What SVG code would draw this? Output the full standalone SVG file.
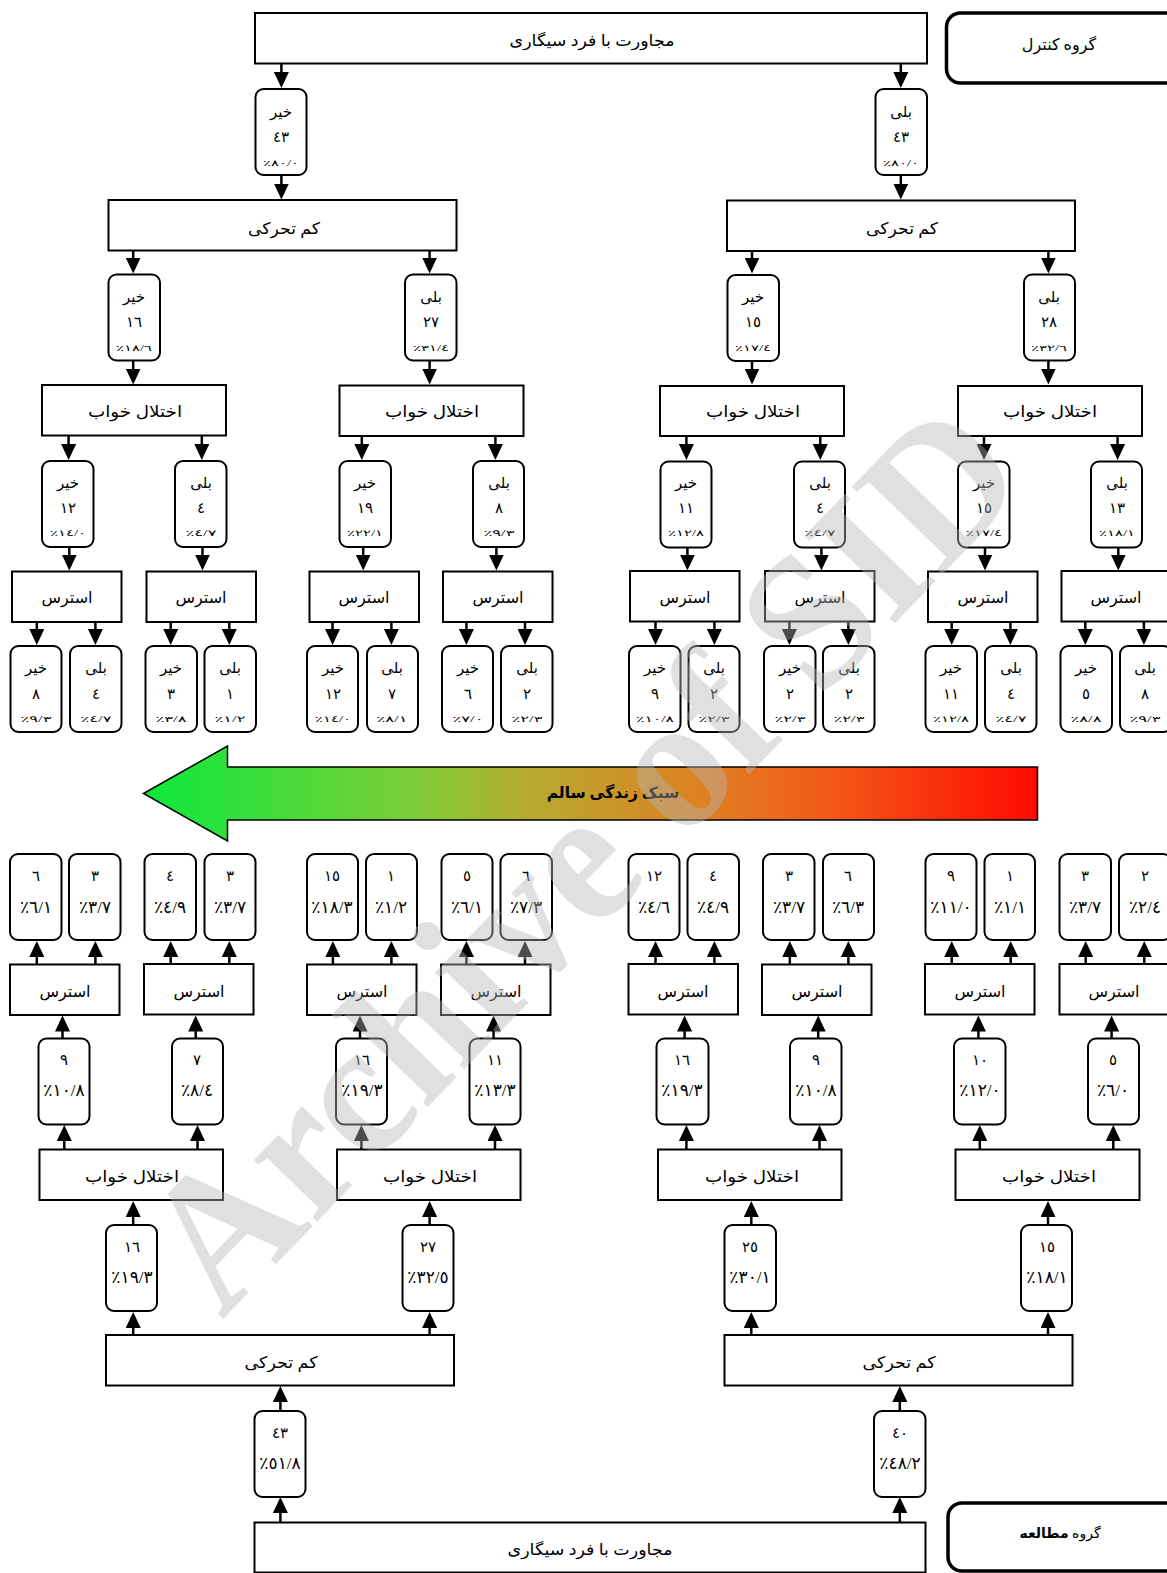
<svg xmlns="http://www.w3.org/2000/svg" width="1167" height="1573" viewBox="0 0 1167 1573">
<style>
text{font-family:"Liberation Serif","DejaVu Sans",serif;fill:#000;text-anchor:middle}
.r{fill:#fff;stroke:#000;stroke-width:2}
.b{fill:#fff;stroke:#000;stroke-width:2}
.g{fill:#fff;stroke:#000;stroke-width:3.5}
.t{font-size:16px}
.a{font-size:15px}
.n{font-size:15px}
.p{font-size:8.5px}
.q{font-size:17px}
.c path{fill:none;stroke:#000;stroke-width:2.5;marker-end:url(#h)}
</style>
<defs>
<marker id="h" viewBox="0 0 16 15" refX="12" refY="7.5" markerWidth="16" markerHeight="15" markerUnits="userSpaceOnUse" orient="auto"><path d="M0 0L16 7.5L0 15z" fill="#000"/></marker>
<linearGradient id="lg" x1="0" x2="1" y1="0" y2="0"><stop offset="0" stop-color="#0ce93c"/><stop offset=".31" stop-color="#80cc38"/><stop offset=".425" stop-color="#b5ac30"/><stop offset=".63" stop-color="#df7f22"/><stop offset=".765" stop-color="#f25a18"/><stop offset="1" stop-color="#ff0a00"/></linearGradient>
</defs>
<g id="connectors" class="c">
<path d="M281.4 63V84"/><path d="M900.8 63V84"/><path d="M281.4 175V195.5"/><path d="M900.8 175V195.5"/>
<path d="M133.2 250.5V269.5"/><path d="M429.6 250.5V269.5"/><path d="M752 250.5V269.5"/><path d="M1048.4 250.5V269.5"/>
<path d="M133.2 361V380.5"/><path d="M429.6 361V380.5"/><path d="M752 361V380.5"/><path d="M1048.4 361V380.5"/>
<path d="M68.6 436V456"/><path d="M201.8 436V456"/><path d="M361.8 436V456"/><path d="M495.4 436V456"/><path d="M686.4 436V456"/><path d="M820.3 436V456"/><path d="M984 436V456"/><path d="M1117.6 436V456"/>
<path d="M69.3 547.5V566.5"/><path d="M202.5 547.5V566.5"/><path d="M363.2 547.5V566.5"/><path d="M496.4 547.5V566.5"/><path d="M687.4 547.5V566.5"/><path d="M821.4 547.5V566.5"/><path d="M985 547.5V566.5"/><path d="M1118.3 547.5V566.5"/>
<path d="M36.8 622V641"/><path d="M95.4 622V641"/><path d="M170.7 622V641"/><path d="M229.3 622V641"/><path d="M332.5 622V641"/><path d="M391.4 622V641"/><path d="M466.4 622V641"/><path d="M525 622V641"/><path d="M655.5 622V641"/><path d="M714.4 622V641"/><path d="M789.4 622V641"/><path d="M848.4 622V641"/><path d="M951.7 622V641"/><path d="M1010.4 622V641"/><path d="M1085.3 622V641"/><path d="M1143.9 622V641"/>
<path d="M36.8 964V945"/><path d="M95.4 964V945"/><path d="M170.7 964V945"/><path d="M229.3 964V945"/><path d="M332.9 964V945"/><path d="M391.4 964V945"/><path d="M466.4 964V945"/><path d="M525 964V945"/><path d="M655.5 964V945"/><path d="M714.4 964V945"/><path d="M789.8 964V945"/><path d="M848.4 964V945"/><path d="M951.7 964V945"/><path d="M1010.7 964V945"/><path d="M1085.7 964V945"/><path d="M1144.3 964V945"/>
<path d="M62.5 1038V1019.5"/><path d="M195.7 1038V1019.5"/><path d="M360 1038V1019.5"/><path d="M493.6 1038V1019.5"/><path d="M684.6 1038V1019.5"/><path d="M818.2 1038V1019.5"/><path d="M978.4 1038V1019.5"/><path d="M1111.6 1038V1019.5"/>
<path d="M64.3 1149V1129"/><path d="M197.5 1149V1129"/><path d="M361.4 1149V1129"/><path d="M495 1149V1129"/><path d="M686.4 1149V1129"/><path d="M819.5 1149V1129"/><path d="M979.8 1149V1129"/><path d="M1113.3 1149V1129"/>
<path d="M133.2 1225V1205"/><path d="M429.6 1225V1205"/><path d="M751.3 1225V1205"/><path d="M1048 1225V1205"/>
<path d="M133.2 1335V1316"/><path d="M429.6 1335V1316"/><path d="M751.3 1335V1316"/><path d="M1048 1335V1316"/>
<path d="M280.4 1411V1390"/><path d="M899.8 1411V1390"/><path d="M280.4 1522V1501"/><path d="M899.8 1522V1501"/>
</g>
<g id="legend-control"><rect class="g" x="946.5" y="13" width="240" height="70" rx="14"/><text class="t" x="1059" y="50">گروه کنترل</text></g>
<g id="legend-study"><rect class="g" x="948" y="1503" width="240" height="68" rx="14"/><text x="1060" y="1538" font-size="14">گروه <tspan font-weight="bold">مطالعه</tspan></text></g>
<g id="c-smoke"><rect class="r" x="255" y="13" width="672" height="50.5"/><text class="t" x="592" y="46" textLength="165" lengthAdjust="spacingAndGlyphs">مجاورت با فرد سیگاری</text></g>
<g id="c-no"><rect class="b" x="255.5" y="89" width="51" height="86" rx="8"/><text class="a" x="281" y="117">خیر</text><text class="n" x="281" y="142">٤٣</text><text class="p" x="281" y="166" textLength="36" lengthAdjust="spacingAndGlyphs">٪٨٠/٠</text></g>
<g id="c-yes"><rect class="b" x="875.5" y="89" width="51.5" height="86" rx="8"/><text class="a" x="901" y="117">بلی</text><text class="n" x="901" y="142">٤٣</text><text class="p" x="901" y="166" textLength="36" lengthAdjust="spacingAndGlyphs">٪٨٠/٠</text></g>
<g id="c-inact-l"><rect class="r" x="108.5" y="200" width="348" height="50.5"/><text class="t" x="284" y="234" textLength="72" lengthAdjust="spacingAndGlyphs">کم تحرکی</text></g>
<g id="c-inact-r"><rect class="r" x="727" y="200.5" width="348" height="50.5"/><text class="t" x="902" y="234" textLength="72" lengthAdjust="spacingAndGlyphs">کم تحرکی</text></g>
<g id="c-2a"><rect class="b" x="108.5" y="274.5" width="51.5" height="86" rx="8"/><text class="a" x="134" y="302">خیر</text><text class="n" x="134" y="327">١٦</text><text class="p" x="134" y="351" textLength="36" lengthAdjust="spacingAndGlyphs">٪١٨/٦</text></g>
<g id="c-2b"><rect class="b" x="405" y="274.5" width="51.5" height="86" rx="8"/><text class="a" x="431" y="302">بلی</text><text class="n" x="431" y="327">٢٧</text><text class="p" x="431" y="351" textLength="36" lengthAdjust="spacingAndGlyphs">٪٣١/٤</text></g>
<g id="c-2c"><rect class="b" x="727.5" y="275" width="51.5" height="86" rx="8"/><text class="a" x="753" y="302">خیر</text><text class="n" x="753" y="327">١٥</text><text class="p" x="753" y="351" textLength="36" lengthAdjust="spacingAndGlyphs">٪١٧/٤</text></g>
<g id="c-2d"><rect class="b" x="1024" y="274.5" width="51" height="86" rx="8"/><text class="a" x="1049" y="302">بلی</text><text class="n" x="1049" y="327">٢٨</text><text class="p" x="1049" y="351" textLength="36" lengthAdjust="spacingAndGlyphs">٪٣٢/٦</text></g>
<g id="c-sleep-a"><rect class="r" x="42" y="385" width="184" height="50.5"/><text class="t" x="135" y="417" textLength="94" lengthAdjust="spacingAndGlyphs">اختلال خواب</text></g>
<g id="c-sleep-b"><rect class="r" x="339.5" y="385.5" width="184" height="50.5"/><text class="t" x="432" y="417" textLength="94" lengthAdjust="spacingAndGlyphs">اختلال خواب</text></g>
<g id="c-sleep-c"><rect class="r" x="660" y="386" width="184" height="50"/><text class="t" x="753" y="417" textLength="94" lengthAdjust="spacingAndGlyphs">اختلال خواب</text></g>
<g id="c-sleep-d"><rect class="r" x="958" y="386" width="184" height="50"/><text class="t" x="1050" y="417" textLength="94" lengthAdjust="spacingAndGlyphs">اختلال خواب</text></g>
<g id="c-3a"><rect class="b" x="42" y="461" width="51.5" height="86" rx="8"/><text class="a" x="68" y="488">خیر</text><text class="n" x="68" y="513">١٢</text><text class="p" x="68" y="536" textLength="36" lengthAdjust="spacingAndGlyphs">٪١٤/٠</text></g>
<g id="c-3b"><rect class="b" x="175" y="461" width="51.5" height="86" rx="8"/><text class="a" x="201" y="488">بلی</text><text class="n" x="201" y="513">٤</text><text class="p" x="201" y="536" textLength="31" lengthAdjust="spacingAndGlyphs">٪٤/٧</text></g>
<g id="c-3c"><rect class="b" x="339.5" y="461" width="51.5" height="86" rx="8"/><text class="a" x="365" y="488">خیر</text><text class="n" x="365" y="513">١٩</text><text class="p" x="365" y="536" textLength="36" lengthAdjust="spacingAndGlyphs">٪٢٢/١</text></g>
<g id="c-3d"><rect class="b" x="473" y="461" width="51" height="86" rx="8"/><text class="a" x="499" y="488">بلی</text><text class="n" x="499" y="513">٨</text><text class="p" x="499" y="536" textLength="31" lengthAdjust="spacingAndGlyphs">٪٩/٣</text></g>
<g id="c-3e"><rect class="b" x="660.5" y="461.5" width="51" height="86" rx="8"/><text class="a" x="686" y="488">خیر</text><text class="n" x="686" y="513">١١</text><text class="p" x="686" y="536" textLength="36" lengthAdjust="spacingAndGlyphs">٪١٢/٨</text></g>
<g id="c-3f"><rect class="b" x="794" y="461.5" width="51" height="86" rx="8"/><text class="a" x="820" y="488">بلی</text><text class="n" x="820" y="513">٤</text><text class="p" x="820" y="536" textLength="31" lengthAdjust="spacingAndGlyphs">٪٤/٧</text></g>
<g id="c-3g"><rect class="b" x="958" y="461.5" width="51.5" height="86" rx="8"/><text class="a" x="984" y="488">خیر</text><text class="n" x="984" y="513">١٥</text><text class="p" x="984" y="536" textLength="36" lengthAdjust="spacingAndGlyphs">٪١٧/٤</text></g>
<g id="c-3h"><rect class="b" x="1091" y="461.5" width="51" height="86" rx="8"/><text class="a" x="1117" y="488">بلی</text><text class="n" x="1117" y="513">١٣</text><text class="p" x="1117" y="536" textLength="36" lengthAdjust="spacingAndGlyphs">٪١٨/١</text></g>
<g id="c-st-a"><rect class="r" x="12" y="571.5" width="109.5" height="50.5"/><text class="t" x="67" y="603">استرس</text></g>
<g id="c-st-b"><rect class="r" x="146.5" y="571.5" width="109.5" height="50.5"/><text class="t" x="201" y="603">استرس</text></g>
<g id="c-st-c"><rect class="r" x="309.5" y="571.5" width="109.5" height="50.5"/><text class="t" x="364" y="603">استرس</text></g>
<g id="c-st-d"><rect class="r" x="443" y="571.5" width="109.5" height="50.5"/><text class="t" x="498" y="603">استرس</text></g>
<g id="c-st-e"><rect class="r" x="630" y="571" width="109.5" height="50.5"/><text class="t" x="685" y="603">استرس</text></g>
<g id="c-st-f"><rect class="r" x="765" y="571" width="109.5" height="50.5"/><text class="t" x="820" y="603">استرس</text></g>
<g id="c-st-g"><rect class="r" x="928" y="571.5" width="109.5" height="50.5"/><text class="t" x="983" y="603">استرس</text></g>
<g id="c-st-h"><rect class="r" x="1061.5" y="571" width="109.5" height="50.5"/><text class="t" x="1116" y="603">استرس</text></g>
<g id="c-4a"><rect class="b" x="10.5" y="646" width="51" height="86" rx="8"/><text class="a" x="36" y="673">خیر</text><text class="n" x="36" y="699">٨</text><text class="p" x="36" y="722" textLength="31" lengthAdjust="spacingAndGlyphs">٪٩/٣</text></g>
<g id="c-4b"><rect class="b" x="70" y="646" width="51.5" height="86" rx="8"/><text class="a" x="96" y="673">بلی</text><text class="n" x="96" y="699">٤</text><text class="p" x="96" y="722" textLength="31" lengthAdjust="spacingAndGlyphs">٪٤/٧</text></g>
<g id="c-4c"><rect class="b" x="145.5" y="646" width="51.5" height="86" rx="8"/><text class="a" x="171" y="673">خیر</text><text class="n" x="171" y="699">٣</text><text class="p" x="171" y="722" textLength="31" lengthAdjust="spacingAndGlyphs">٪٣/٨</text></g>
<g id="c-4d"><rect class="b" x="204.5" y="646" width="51.5" height="86" rx="8"/><text class="a" x="230" y="673">بلی</text><text class="n" x="230" y="699">١</text><text class="p" x="230" y="722" textLength="31" lengthAdjust="spacingAndGlyphs">٪١/٢</text></g>
<g id="c-4e"><rect class="b" x="307" y="646" width="51" height="86" rx="8"/><text class="a" x="333" y="673">خیر</text><text class="n" x="333" y="699">١٢</text><text class="p" x="333" y="722" textLength="36" lengthAdjust="spacingAndGlyphs">٪١٤/٠</text></g>
<g id="c-4f"><rect class="b" x="367" y="646" width="51" height="86" rx="8"/><text class="a" x="392" y="673">بلی</text><text class="n" x="392" y="699">٧</text><text class="p" x="392" y="722" textLength="31" lengthAdjust="spacingAndGlyphs">٪٨/١</text></g>
<g id="c-4g"><rect class="b" x="442" y="646" width="51" height="86" rx="8"/><text class="a" x="468" y="673">خیر</text><text class="n" x="468" y="699">٦</text><text class="p" x="468" y="722" textLength="31" lengthAdjust="spacingAndGlyphs">٪٧/٠</text></g>
<g id="c-4h"><rect class="b" x="501" y="646" width="51.5" height="86" rx="8"/><text class="a" x="527" y="673">بلی</text><text class="n" x="527" y="699">٢</text><text class="p" x="527" y="722" textLength="31" lengthAdjust="spacingAndGlyphs">٪٢/٣</text></g>
<g id="c-4i"><rect class="b" x="629" y="646" width="51.5" height="86" rx="8"/><text class="a" x="655" y="673">خیر</text><text class="n" x="655" y="699">٩</text><text class="p" x="655" y="722" textLength="38" lengthAdjust="spacingAndGlyphs">٪١٠/٨</text></g>
<g id="c-4j"><rect class="b" x="688.5" y="646" width="51" height="86" rx="8"/><text class="a" x="714" y="673">بلی</text><text class="n" x="714" y="699">٢</text><text class="p" x="714" y="722" textLength="31" lengthAdjust="spacingAndGlyphs">٪٢/٣</text></g>
<g id="c-4k"><rect class="b" x="764" y="646" width="51.5" height="86" rx="8"/><text class="a" x="790" y="673">خیر</text><text class="n" x="790" y="699">٢</text><text class="p" x="790" y="722" textLength="31" lengthAdjust="spacingAndGlyphs">٪٢/٣</text></g>
<g id="c-4l"><rect class="b" x="823" y="646" width="51.5" height="86" rx="8"/><text class="a" x="849" y="673">بلی</text><text class="n" x="849" y="699">٢</text><text class="p" x="849" y="722" textLength="31" lengthAdjust="spacingAndGlyphs">٪٢/٣</text></g>
<g id="c-4m"><rect class="b" x="925.5" y="646" width="51.5" height="86" rx="8"/><text class="a" x="951" y="673">خیر</text><text class="n" x="951" y="699">١١</text><text class="p" x="951" y="722" textLength="36" lengthAdjust="spacingAndGlyphs">٪١٢/٨</text></g>
<g id="c-4n"><rect class="b" x="985" y="646" width="51.5" height="86" rx="8"/><text class="a" x="1011" y="673">بلی</text><text class="n" x="1011" y="699">٤</text><text class="p" x="1011" y="722" textLength="31" lengthAdjust="spacingAndGlyphs">٪٤/٧</text></g>
<g id="c-4o"><rect class="b" x="1060.5" y="646" width="51.5" height="86" rx="8"/><text class="a" x="1086" y="673">خیر</text><text class="n" x="1086" y="699">٥</text><text class="p" x="1086" y="722" textLength="31" lengthAdjust="spacingAndGlyphs">٪٨/٨</text></g>
<g id="c-4p"><rect class="b" x="1120" y="646" width="51.5" height="86" rx="8"/><text class="a" x="1145" y="673">بلی</text><text class="n" x="1145" y="699">٨</text><text class="p" x="1145" y="722" textLength="31" lengthAdjust="spacingAndGlyphs">٪٩/٣</text></g>
<g id="lifestyle"><path d="M143.5 793.5L227.5 746V767H1037.5V820H227.5V841z" fill="url(#lg)" stroke="#000" stroke-width="1.5"/><text x="613" y="798" font-size="15.5" font-weight="bold">سبک زندگی سالم</text></g>
<g id="s-4a"><rect class="b" x="10" y="854" width="51.5" height="86" rx="8"/><text class="n" x="36" y="881">٦</text><text class="q" x="36" y="913">٪٦/١</text></g>
<g id="s-4b"><rect class="b" x="69" y="854" width="51.5" height="86" rx="8"/><text class="n" x="95" y="881">٣</text><text class="q" x="95" y="913">٪٣/٧</text></g>
<g id="s-4c"><rect class="b" x="144.5" y="854" width="51.5" height="86" rx="8"/><text class="n" x="170" y="881">٤</text><text class="q" x="170" y="913">٪٤/٩</text></g>
<g id="s-4d"><rect class="b" x="204.5" y="854" width="51" height="86" rx="8"/><text class="n" x="230" y="881">٣</text><text class="q" x="230" y="913">٪٣/٧</text></g>
<g id="s-4e"><rect class="b" x="307" y="854" width="51" height="86" rx="8"/><text class="n" x="332" y="881">١٥</text><text class="q" x="332" y="913">٪١٨/٣</text></g>
<g id="s-4f"><rect class="b" x="366" y="854" width="51" height="86" rx="8"/><text class="n" x="391" y="881">١</text><text class="q" x="391" y="913">٪١/٢</text></g>
<g id="s-4g"><rect class="b" x="441.5" y="854" width="51" height="86" rx="8"/><text class="n" x="467" y="881">٥</text><text class="q" x="467" y="913">٪٦/١</text></g>
<g id="s-4h"><rect class="b" x="500.5" y="854" width="51.5" height="86" rx="8"/><text class="n" x="526" y="881">٦</text><text class="q" x="526" y="913">٪٧/٣</text></g>
<g id="s-4i"><rect class="b" x="628.5" y="854" width="51" height="86" rx="8"/><text class="n" x="654" y="881">١٢</text><text class="q" x="654" y="913">٪٤/٦</text></g>
<g id="s-4j"><rect class="b" x="687.5" y="854" width="51.5" height="86" rx="8"/><text class="n" x="713" y="881">٤</text><text class="q" x="713" y="913">٪٤/٩</text></g>
<g id="s-4k"><rect class="b" x="763" y="854" width="51.5" height="86" rx="8"/><text class="n" x="789" y="881">٣</text><text class="q" x="789" y="913">٪٣/٧</text></g>
<g id="s-4l"><rect class="b" x="823" y="854" width="51" height="86" rx="8"/><text class="n" x="848" y="881">٦</text><text class="q" x="848" y="913">٪٦/٣</text></g>
<g id="s-4m"><rect class="b" x="925.5" y="854" width="51" height="86" rx="8"/><text class="n" x="951" y="881">٩</text><text class="q" x="951" y="913">٪١١/٠</text></g>
<g id="s-4n"><rect class="b" x="984.5" y="854" width="50.5" height="86" rx="8"/><text class="n" x="1010" y="881">١</text><text class="q" x="1010" y="913">٪١/١</text></g>
<g id="s-4o"><rect class="b" x="1059.5" y="854" width="51.5" height="86" rx="8"/><text class="n" x="1085" y="881">٣</text><text class="q" x="1085" y="913">٪٣/٧</text></g>
<g id="s-4p"><rect class="b" x="1119" y="854" width="52" height="86" rx="8"/><text class="n" x="1145" y="881">٢</text><text class="q" x="1145" y="913">٪٢/٤</text></g>
<g id="s-st-a"><rect class="r" x="10" y="964.5" width="109.5" height="50.5"/><text class="t" x="65" y="997">استرس</text></g>
<g id="s-st-b"><rect class="r" x="144" y="964" width="109.5" height="50.5"/><text class="t" x="199" y="997">استرس</text></g>
<g id="s-st-c"><rect class="r" x="307" y="964.5" width="109.5" height="50.5"/><text class="t" x="362" y="997">استرس</text></g>
<g id="s-st-d"><rect class="r" x="441" y="964.5" width="109.5" height="50.5"/><text class="t" x="496" y="997">استرس</text></g>
<g id="s-st-e"><rect class="r" x="628.5" y="964" width="109.5" height="50.5"/><text class="t" x="683" y="997">استرس</text></g>
<g id="s-st-f"><rect class="r" x="762" y="964.5" width="109.5" height="50.5"/><text class="t" x="817" y="997">استرس</text></g>
<g id="s-st-g"><rect class="r" x="925" y="964" width="109.5" height="50.5"/><text class="t" x="980" y="997">استرس</text></g>
<g id="s-st-h"><rect class="r" x="1059.5" y="964" width="109.5" height="50.5"/><text class="t" x="1114" y="997">استرس</text></g>
<g id="s-3a"><rect class="b" x="38.5" y="1038.5" width="51" height="86" rx="8"/><text class="n" x="64" y="1065">٩</text><text class="q" x="64" y="1096">٪١٠/٨</text></g>
<g id="s-3b"><rect class="b" x="172" y="1038.5" width="51" height="86" rx="8"/><text class="n" x="197" y="1065">٧</text><text class="q" x="197" y="1096">٪٨/٤</text></g>
<g id="s-3c"><rect class="b" x="336" y="1038.5" width="51" height="86" rx="8"/><text class="n" x="362" y="1065">١٦</text><text class="q" x="362" y="1096">٪١٩/٣</text></g>
<g id="s-3d"><rect class="b" x="469.5" y="1038.5" width="51" height="86" rx="8"/><text class="n" x="495" y="1065">١١</text><text class="q" x="495" y="1096">٪١٣/٣</text></g>
<g id="s-3e"><rect class="b" x="656.5" y="1038.5" width="52" height="86" rx="8"/><text class="n" x="682" y="1065">١٦</text><text class="q" x="682" y="1096">٪١٩/٣</text></g>
<g id="s-3f"><rect class="b" x="790" y="1038.5" width="51.5" height="86" rx="8"/><text class="n" x="816" y="1065">٩</text><text class="q" x="816" y="1096">٪١٠/٨</text></g>
<g id="s-3g"><rect class="b" x="954" y="1038.5" width="51.5" height="86" rx="8"/><text class="n" x="980" y="1065">١٠</text><text class="q" x="980" y="1096">٪١٢/٠</text></g>
<g id="s-3h"><rect class="b" x="1088" y="1038.5" width="51" height="86" rx="8"/><text class="n" x="1113" y="1065">٥</text><text class="q" x="1113" y="1096">٪٦/٠</text></g>
<g id="s-sleep-a"><rect class="r" x="39.5" y="1149.5" width="183.5" height="50.5"/><text class="t" x="132" y="1182" textLength="94" lengthAdjust="spacingAndGlyphs">اختلال خواب</text></g>
<g id="s-sleep-b"><rect class="r" x="337" y="1149.5" width="183.5" height="50.5"/><text class="t" x="430" y="1182" textLength="94" lengthAdjust="spacingAndGlyphs">اختلال خواب</text></g>
<g id="s-sleep-c"><rect class="r" x="658" y="1149.5" width="183.5" height="50.5"/><text class="t" x="752" y="1182" textLength="94" lengthAdjust="spacingAndGlyphs">اختلال خواب</text></g>
<g id="s-sleep-d"><rect class="r" x="955.5" y="1149.5" width="184" height="50.5"/><text class="t" x="1049" y="1182" textLength="94" lengthAdjust="spacingAndGlyphs">اختلال خواب</text></g>
<g id="s-2a"><rect class="b" x="106" y="1225" width="51" height="86" rx="8"/><text class="n" x="132" y="1252">١٦</text><text class="q" x="132" y="1283">٪١٩/٣</text></g>
<g id="s-2b"><rect class="b" x="402.5" y="1225" width="51" height="86" rx="8"/><text class="n" x="428" y="1252">٢٧</text><text class="q" x="428" y="1283">٪٣٢/٥</text></g>
<g id="s-2c"><rect class="b" x="724.5" y="1225" width="51.5" height="86" rx="8"/><text class="n" x="750" y="1252">٢٥</text><text class="q" x="750" y="1283">٪٣٠/١</text></g>
<g id="s-2d"><rect class="b" x="1021" y="1225" width="51" height="86" rx="8"/><text class="n" x="1047" y="1252">١٥</text><text class="q" x="1047" y="1283">٪١٨/١</text></g>
<g id="s-inact-l"><rect class="r" x="106" y="1335" width="348" height="50.5"/><text class="t" x="281" y="1368" textLength="73" lengthAdjust="spacingAndGlyphs">کم تحرکی</text></g>
<g id="s-inact-r"><rect class="r" x="724.5" y="1335" width="348" height="50.5"/><text class="t" x="899" y="1368" textLength="73" lengthAdjust="spacingAndGlyphs">کم تحرکی</text></g>
<g id="s-yes"><rect class="b" x="254.5" y="1411" width="51" height="86" rx="8"/><text class="n" x="280" y="1438">٤٣</text><text class="q" x="280" y="1469">٪٥١/٨</text></g>
<g id="s-no"><rect class="b" x="874" y="1411" width="51.5" height="86" rx="8"/><text class="n" x="900" y="1438">٤٠</text><text class="q" x="900" y="1469">٪٤٨/٢</text></g>
<g id="s-smoke"><rect class="r" x="254.5" y="1522.5" width="671" height="50"/><text class="t" x="590" y="1555" textLength="165" lengthAdjust="spacingAndGlyphs">مجاورت با فرد سیگاری</text></g>
<g id="watermark" opacity=".42"><text transform="translate(222 1320) rotate(-46) scale(1 1.05)" style="text-anchor:start;fill:#b6b6b6" font-size="183" font-weight="bold">Archive of SID</text></g>
</svg>
